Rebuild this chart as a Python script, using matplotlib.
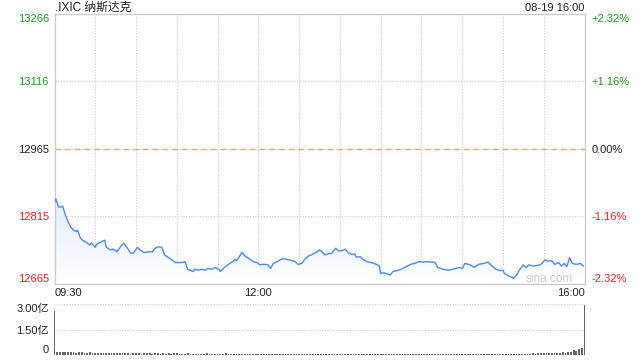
import numpy as np
import matplotlib
matplotlib.use('Agg')
import matplotlib.pyplot as plt
from matplotlib.colors import LinearSegmentedColormap

plt.rcParams['font.family'] = ['Liberation Sans', 'Noto Sans CJK SC']

prev_close = 12965.0
title = '.IXIC 纳斯达克'
stamp = '08-19 16:00'

# minutes after 09:30 and index level
minutes = [0, 1, 3, 5, 6, 8, 10, 12, 14, 16, 17, 19, 21, 24, 26, 27, 30, 31, 33, 37,
           38, 41, 43, 46, 49, 51, 53, 56, 58, 61, 63, 66, 69, 72, 74, 76, 79, 81, 85, 89,
           91, 94, 96, 98, 102, 103, 106, 108, 111, 113, 116, 118, 121, 122, 125, 129, 131, 133, 134, 136,
           138, 140, 143, 146, 149, 151, 154, 157, 159, 161, 164, 166, 168, 171, 173, 177, 179, 182, 184, 187,
           189, 192, 195, 197, 199, 201, 204, 207, 209, 211, 214, 216, 219, 221, 222, 225, 227, 230, 233, 237,
           239, 240, 242, 244, 247, 249, 252, 255, 259, 262, 265, 268, 271, 274, 278, 280, 282, 286, 290, 293,
           298, 300, 302, 306, 309, 312, 316, 319, 322, 325, 328, 330, 331, 334, 336, 338, 340, 342, 345, 347,
           349, 352, 356, 358, 361, 363, 366, 368, 371, 373, 375, 377, 379, 381, 384, 387, 389]
prices = [12845, 12854, 12836, 12836, 12838, 12818, 12803, 12791, 12784, 12781, 12784, 12767, 12761, 12756, 12751, 12756, 12746, 12753, 12756, 12762,
          12747, 12740, 12742, 12736, 12749, 12755, 12747, 12733, 12733, 12746, 12740, 12734, 12736, 12736, 12744, 12747, 12746, 12729, 12721, 12712,
          12712, 12712, 12714, 12697, 12692, 12697, 12695, 12697, 12695, 12699, 12697, 12701, 12697, 12692, 12701, 12710, 12714, 12719, 12716, 12725,
          12735, 12727, 12721, 12714, 12712, 12707, 12708, 12707, 12699, 12710, 12714, 12718, 12721, 12719, 12718, 12714, 12708, 12710, 12719, 12727,
          12729, 12734, 12740, 12736, 12729, 12731, 12733, 12744, 12738, 12738, 12742, 12734, 12730, 12731, 12724, 12725, 12719, 12714, 12712, 12708,
          12704, 12688, 12689, 12688, 12684, 12692, 12694, 12697, 12703, 12708, 12710, 12714, 12713, 12714, 12713, 12712, 12701, 12697, 12695, 12697,
          12701, 12699, 12710, 12707, 12701, 12708, 12710, 12713, 12704, 12697, 12694, 12695, 12688, 12682, 12680, 12677, 12684, 12695, 12707, 12701,
          12707, 12704, 12706, 12708, 12718, 12715, 12716, 12708, 12712, 12704, 12710, 12703, 12723, 12710, 12708, 12710, 12704]

# volume per 2-minute bar, in 亿
vol_minutes = list(range(0, 391, 2))
volume = [2.58,
          0.18, 0.16, 0.17, 0.15, 0.16, 0.17, 0.15, 0.14, 0.16, 0.15, 0.13, 0.14, 0.15, 0.12, 0.13,
          0.10, 0.11, 0.09, 0.10, 0.10, 0.09, 0.11, 0.10, 0.09, 0.10, 0.09, 0.10, 0.08, 0.09, 0.10,
          0.09, 0.08, 0.10, 0.09, 0.09, 0.08, 0.09, 0.10, 0.08, 0.09, 0.08, 0.09, 0.08, 0.09, 0.10,
          0.08, 0.07, 0.08, 0.09, 0.07, 0.08, 0.07, 0.08, 0.08, 0.07, 0.09, 0.07, 0.08, 0.07, 0.06,
          0.08, 0.07, 0.09, 0.07, 0.06, 0.07, 0.08, 0.06, 0.07, 0.08, 0.06, 0.07, 0.06, 0.08, 0.07,
          0.06, 0.07, 0.08, 0.06, 0.07, 0.06, 0.07, 0.08, 0.06, 0.07, 0.06, 0.07, 0.06, 0.08, 0.07,
          0.06, 0.07, 0.06, 0.07, 0.06,
          0.07, 0.06, 0.06, 0.07, 0.05, 0.06, 0.07, 0.06, 0.06, 0.05, 0.07, 0.06, 0.06, 0.07, 0.06,
          0.05, 0.06, 0.07, 0.06, 0.06, 0.07, 0.06, 0.05, 0.06, 0.06, 0.07, 0.06, 0.06, 0.05, 0.06,
          0.07, 0.06, 0.06, 0.07, 0.06, 0.05, 0.06, 0.06, 0.07, 0.06, 0.06, 0.05, 0.06, 0.07, 0.06,
          0.06, 0.07, 0.06, 0.06, 0.05, 0.06, 0.07, 0.06, 0.06, 0.07, 0.06, 0.06, 0.07, 0.06, 0.06,
          0.07, 0.06, 0.07, 0.06, 0.07, 0.06, 0.07, 0.07, 0.06, 0.07, 0.06, 0.07, 0.07, 0.06, 0.07,
          0.07, 0.08, 0.07, 0.08, 0.08, 0.09, 0.08, 0.09, 0.10, 0.09, 0.14, 0.12, 0.13, 0.12, 0.14,
          0.13, 0.15, 0.14, 0.16,
          0.20, 0.30, 0.24, 0.36, 0.42, 2.92]

left_ticks = [13266, 13116, 12965, 12815, 12665]
left_labels = ['13266', '13116', '12965', '12815', '12665']
right_labels = ['+2.32%', '+1.16%', '0.00%', '-1.16%', '-2.32%']
tick_colors = ['#1a9e1a', '#1a9e1a', '#222222', '#f02020', '#f02020']
time_labels = ['09:30', '12:00', '16:00']
time_pos = [0, 150, 390]

grid_c = '#cccccc'
line_c = '#4a8af4'

fig = plt.figure(figsize=(6.4, 3.6), dpi=100)
ax = fig.add_axes([54.5 / 640, 76 / 360, 530 / 640, 270 / 360])
ylo = prev_close * (1 - 0.0232)
yhi = prev_close * (1 + 0.0232)

# gradient fill under the line
poly = ax.fill_between(minutes, prices, ylo, color='none', lw=0)
cmap = LinearSegmentedColormap.from_list('fade', ['#ffffff', '#e3edfc'])
grad = np.linspace(1, 0, 256).reshape(-1, 1)
im = ax.imshow(grad, extent=[0, 390, ylo, max(prices)], aspect='auto', cmap=cmap,
               origin='upper', zorder=1)
im.set_clip_path(poly.get_paths()[0], transform=ax.transData)

ax.plot(minutes, prices, color=line_c, lw=1.0, zorder=3)

for m in range(30, 390, 30):
    ax.axvline(m, color=grid_c, lw=0.8, ls=(0, (1, 1.5)), zorder=0)
for v in [13116, 12815]:
    ax.axhline(v, color=grid_c, lw=0.8, ls=(0, (1, 1.5)), zorder=0)
ax.axhline(prev_close, color=grid_c, lw=0.8, ls=(0, (1, 1.5)), zorder=0)
ax.axhline(prev_close, color='#f4a46a', lw=1.0, ls=(0, (4, 3)), zorder=2)

ax.set_xlim(0, 390)
ax.set_ylim(ylo, yhi)
ax.set_xticks([])
for s in ax.spines.values():
    s.set_color(grid_c)
    s.set_linewidth(1)

ax.set_yticks(left_ticks)
ax.set_yticklabels(left_labels, fontsize=8)
ax.tick_params(axis='y', length=0, pad=4)
ax2 = ax.twinx()
ax2.set_ylim(ylo, yhi)
ax2.set_yticks(left_ticks)
ax2.set_yticklabels(right_labels, fontsize=8)
ax2.tick_params(axis='y', length=0, pad=5)
for s in ax2.spines.values():
    s.set_visible(False)
for a in (ax, ax2):
    labs = a.get_yticklabels()
    for i, lab in enumerate(labs):
        lab.set_color(tick_colors[i])
    labs[0].set_va('top')
    labs[-1].set_va('bottom')

for t, pos in zip(time_labels, time_pos):
    ha = 'left' if pos == 0 else ('right' if pos == 390 else 'center')
    ax.text(pos, -0.033, t, transform=ax.get_xaxis_transform(), ha=ha, va='center',
            fontsize=8, color='#222222')

ax.text(0.978, 0.02, 'sina.com', transform=ax.transAxes, ha='right', va='center',
        fontsize=8.5, color='#cccccc')

fig.text(55 / 640, 1 - 8 / 360, title, ha='left', va='center', fontsize=8.5, color='#222222')
fig.text(584 / 640, 1 - 8 / 360, stamp, ha='right', va='center', fontsize=8, color='#222222')

# volume panel
vax = fig.add_axes([54.5 / 640, 5 / 360, 530 / 640, 51 / 360])
bars = vax.bar(vol_minutes, volume, width=1.3, color='#666666', align='center', zorder=2)
for b in bars:
    b.set_clip_on(False)
vax.set_xlim(0, 390)
vax.set_ylim(0, 3.0)
for v in [3.0, 1.5]:
    vax.axhline(v, color=grid_c, lw=0.8, ls=(0, (1, 1.5)), zorder=0)
for s in vax.spines.values():
    s.set_visible(False)
vax.set_xticks([])
vax.set_yticks([0, 1.5, 3.0])
vax.set_yticklabels(['0', '1.50亿', '3.00亿'], fontsize=8, color='#222222')
vax.tick_params(axis='y', length=0, pad=4)
vlabs = vax.get_yticklabels()
vlabs[0].set_va('bottom')
vlabs[-1].set_va('top')

fig.savefig('out.png', dpi=100)
